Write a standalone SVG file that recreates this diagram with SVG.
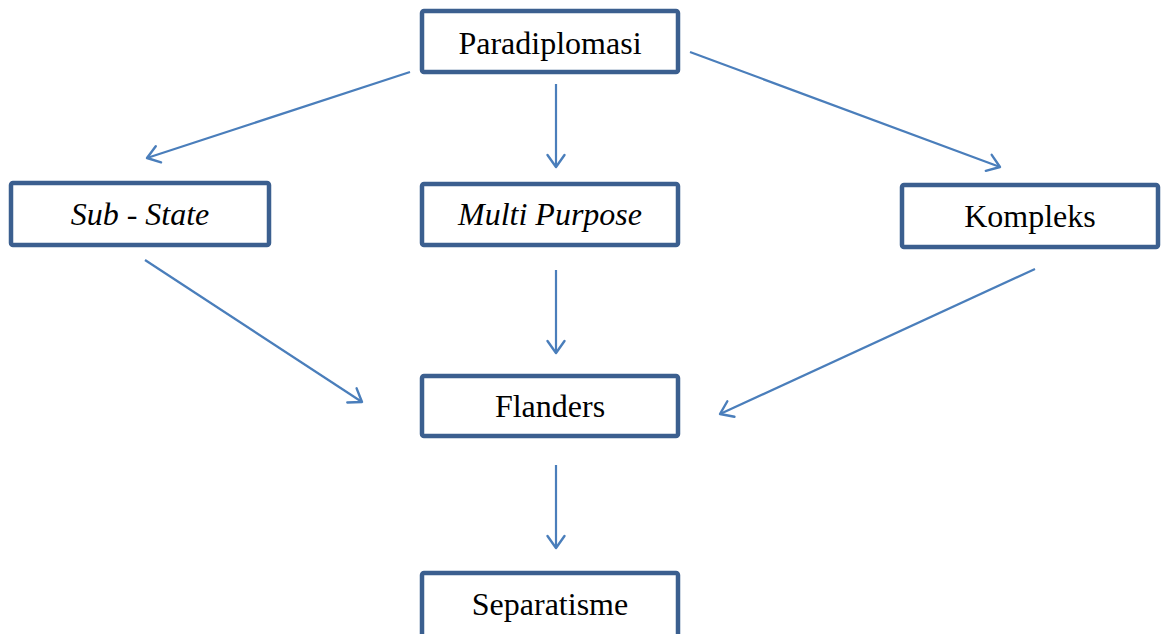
<svg xmlns="http://www.w3.org/2000/svg" width="1162" height="634" viewBox="0 0 1162 634">
<style>
.box{fill:#fff;stroke:#3B5F8F;stroke-width:4.5}
.lbl{font-family:"Liberation Serif","Times New Roman",serif;font-size:32px;fill:#000;text-anchor:middle}
.it{font-style:italic}
.con{stroke:#4A7EBB;stroke-width:2.2;fill:none;marker-end:url(#ah)}
</style>
<defs>
<marker id="ah" markerUnits="userSpaceOnUse" markerWidth="30" markerHeight="30" refX="15" refY="15" orient="auto" viewBox="0 0 30 30">
<path d="M3,6.5 L15,15 L3,23.5" fill="none" stroke="#4A7EBB" stroke-width="2.4" stroke-linecap="round" stroke-linejoin="round"/>
</marker>
</defs>
<g id="connectors">
<line class="con" x1="410" y1="72" x2="147" y2="158"/>
<line class="con" x1="556" y1="84" x2="556" y2="167"/>
<line class="con" x1="690" y1="52" x2="1000" y2="167"/>
<line class="con" x1="145" y1="260" x2="362" y2="402"/>
<line class="con" x1="556" y1="270" x2="556" y2="353"/>
<line class="con" x1="1035" y1="269" x2="720" y2="414"/>
<line class="con" x1="556" y1="465" x2="556" y2="548"/>
</g>
<g id="paradiplomasi"><rect class="box" x="422" y="11" width="256" height="61" rx="2"/><text class="lbl" x="550" y="54">Paradiplomasi</text></g>
<g id="substate"><rect class="box" x="11" y="183" width="258" height="62" rx="2"/><text class="lbl it" x="140" y="225">Sub - State</text></g>
<g id="multipurpose"><rect class="box" x="422" y="184" width="256" height="61" rx="2"/><text class="lbl it" x="550" y="225">Multi Purpose</text></g>
<g id="kompleks"><rect class="box" x="902" y="185" width="256" height="62" rx="2"/><text class="lbl" x="1030" y="227">Kompleks</text></g>
<g id="flanders"><rect class="box" x="422" y="376" width="256" height="60" rx="2"/><text class="lbl" x="550" y="417">Flanders</text></g>
<g id="separatisme"><rect class="box" x="422" y="573" width="256" height="70" rx="2"/><text class="lbl" x="550" y="615">Separatisme</text></g>
</svg>
